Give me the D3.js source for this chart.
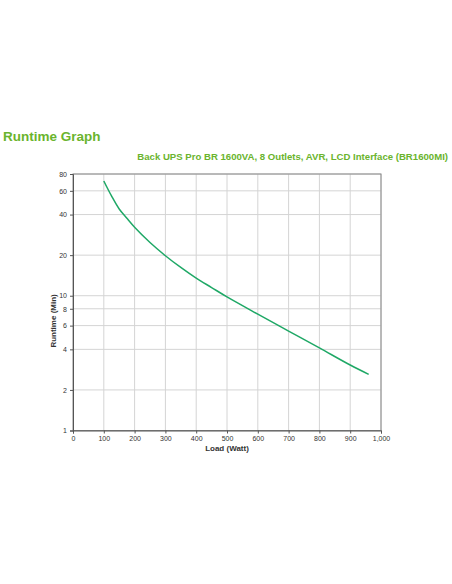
<!DOCTYPE html>
<html><head><meta charset="utf-8">
<script src="https://cdn.jsdelivr.net/npm/d3@7"></script>
<style>body{margin:0;background:#fff;font-family:Arial,"Liberation Sans",sans-serif}</style>
</head><body>
<svg id="chart" width="452" height="584"></svg>
<script>
const loads = [100, 125, 150, 175, 200, 250, 300, 350, 400, 450, 500, 600, 700, 800, 900, 960];
const runtimes = [71, 55, 44, 37.5, 32.2, 24.8, 19.8, 16.2, 13.5, 11.5, 9.8, 7.3, 5.47, 4.1, 3.06, 2.61];
const xTicks = [0, 100, 200, 300, 400, 500, 600, 700, 800, 900, 1000];
const yTicks = [1, 2, 4, 6, 8, 10, 20, 40, 60, 80];

const svg = d3.select("#chart");
const green = "#6ab42d";

svg.append("text").attr("x", 3).attr("y", 141).attr("fill", green)
    .attr("font-size", 13.5).attr("font-weight", "bold").text("Runtime Graph");
svg.append("text").attr("x", 448).attr("y", 160).attr("fill", green).attr("text-anchor", "end")
    .attr("font-size", 9.6).attr("font-weight", "bold")
    .text("Back UPS Pro BR 1600VA, 8 Outlets, AVR, LCD Interface (BR1600MI)");

const x = d3.scaleLinear().domain([0, 1000]).range([73, 381]);
const y = d3.scaleLog().domain([1, 80]).range([430.5, 174]);

const grid = svg.append("g").attr("stroke", "#d4d4d4").attr("stroke-width", 1);
xTicks.slice(1).forEach(t => grid.append("line").attr("x1", x(t)).attr("x2", x(t)).attr("y1", y(1)).attr("y2", y(80)));
yTicks.slice(1).forEach(t => grid.append("line").attr("x1", x(0)).attr("x2", x(1000)).attr("y1", y(t)).attr("y2", y(t)));
svg.append("rect").attr("x", x(0)).attr("y", y(80)).attr("width", x(1000) - x(0)).attr("height", y(1) - y(80))
    .attr("fill", "none").attr("stroke", "#888");

const xAxis = svg.append("g").attr("transform", `translate(0,${y(1)})`)
    .call(d3.axisBottom(x).tickValues(xTicks).tickSize(3).tickFormat(d3.format(",")));
const yAxis = svg.append("g").attr("transform", `translate(${x(0)},0)`)
    .call(d3.axisLeft(y).tickValues(yTicks).tickSize(3).tickFormat(d3.format("d")));
[xAxis, yAxis].forEach(a => {
    a.selectAll("text").attr("font-size", 7).attr("fill", "#333").attr("font-family", "Arial,'Liberation Sans',sans-serif");
    a.selectAll("line,path").attr("stroke", "#555");
});

svg.append("text").attr("x", (x(0) + x(1000)) / 2).attr("y", 451).attr("text-anchor", "middle")
    .attr("font-size", 8).attr("font-weight", "bold").attr("fill", "#333").text("Load (Watt)");
svg.append("text").attr("transform", `translate(56,${y(6.5)}) rotate(-90)`).attr("text-anchor", "middle")
    .attr("font-size", 8).attr("font-weight", "bold").attr("fill", "#333").text("Runtime (Min)");

svg.append("path").datum(loads.map((l, i) => [l, runtimes[i]]))
    .attr("fill", "none").attr("stroke", "#1fa866").attr("stroke-width", 1.5)
    .attr("d", d3.line().x(d => x(d[0])).y(d => y(d[1])).curve(d3.curveCatmullRom));
</script>
</body></html>
